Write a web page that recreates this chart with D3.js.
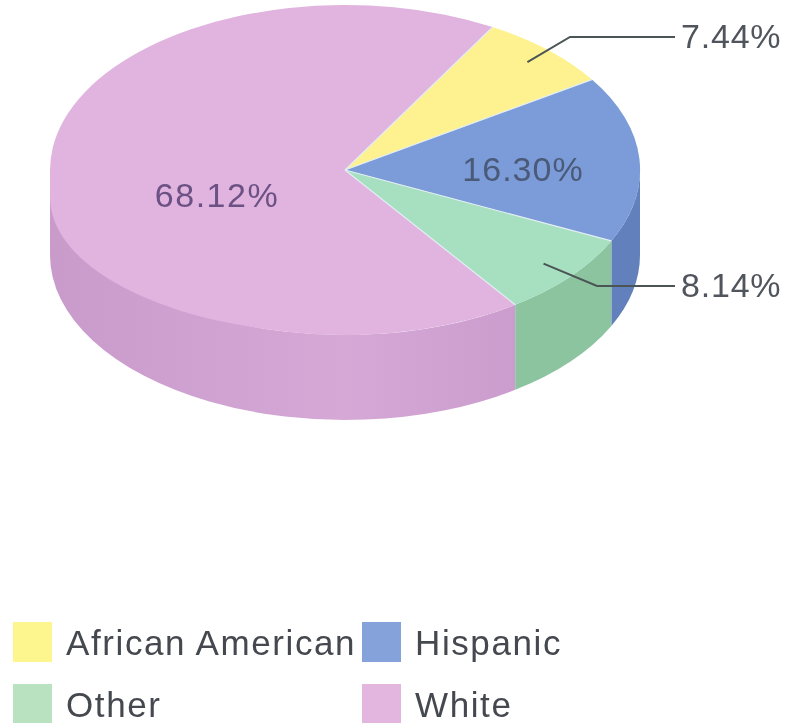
<!DOCTYPE html>
<html lang="en">
<head>
    <meta charset="UTF-8">
    <title>Pie</title>
    <script src="https://d3js.org/d3.v7.min.js"></script>
    <style>
        html, body { margin: 0; background: #fff; overflow: hidden; }
        svg { display: block; filter: blur(0.7px); }
        text { font-family: 'Liberation Sans', Arial, sans-serif; }
    </style>
</head>
<body>
<svg id="chart" width="790" height="723"></svg>
<script>
    const categories = ['African American', 'Hispanic', 'Other', 'White'];
    const shares = [7.44, 16.30, 8.14, 68.12];
    const shareLabels = ['7.44%', '16.30%', '8.14%', '68.12%'];
    const topColors = ['#fdf28f', '#7b9cd8', '#a6e0c0', '#e0b4df'];
    const sideColors = ['#d8cf78', '#6280bc', '#8cc4a0', 'url(#wallPink)'];
    const legendColors = ['#fdf68f', '#86a2da', '#b9e3c0', '#e3b6e0'];
    const labelColors = ['#50545c', '#4a5a78', '#50545c', '#6c5284'];

    const cx = 345, cy = 170, rx = 295, ry = 165, depth = 85;
    const startDeg = 30;
    // the source picture is not a true ellipse, lower left of the top face sags
    const sagCy = 197, sagRy = 137;

    const svg = d3.select('#chart');
    const wallGradient = svg.append('defs').append('linearGradient')
        .attr('id', 'wallPink')
        .attr('gradientUnits', 'userSpaceOnUse')
        .attr('x1', cx - rx).attr('x2', cx + rx)
        .attr('y1', 0).attr('y2', 0);
    [[0, '#c89bcb'], [0.5, '#d6a8d6'], [0.79, '#cb9dce']].forEach(s => {
        wallGradient.append('stop').attr('offset', s[0]).attr('stop-color', s[1]);
    });

    const pie = d3.pie().sort(null).value(d => d)
        .startAngle(startDeg * Math.PI / 180)
        .endAngle((startDeg + 360) * Math.PI / 180);
    const slices = pie(shares);

    // Angles are clockwise from 12 o'clock, same as d3.arc
    const px = a => cx + rx * Math.sin(a);
    const py = a => cy - ry * Math.cos(a);

    // Front wall, only the part of each slice facing down (90deg to 270deg)
    function wallPath(s) {
        const lo = Math.max(s.startAngle, Math.PI / 2);
        const hi = Math.min(s.endAngle, 3 * Math.PI / 2);
        if (hi <= lo) return null;
        const large = hi - lo > Math.PI ? 1 : 0;
        return `M${px(lo)},${py(lo)}A${rx},${ry} 0 ${large} 1 ${px(hi)},${py(hi)}` +
            `L${px(hi)},${py(hi) + depth}A${rx},${ry} 0 ${large} 0 ${px(lo)},${py(lo) + depth}Z`;
    }

    svg.append('g').selectAll('path')
        .data(slices)
        .join('path')
        .attr('d', wallPath)
        .attr('fill', (d, i) => sideColors[i]);

    const arc = d3.arc().innerRadius(0).outerRadius(1);
    svg.append('g')
        .attr('transform', `translate(${cx},${cy}) scale(${rx},${ry})`)
        .selectAll('path')
        .data(slices)
        .join('path')
        .attr('d', arc)
        .attr('fill', (d, i) => topColors[i]);

    // sagging quarter of the top face
    svg.append('path')
        .attr('d', `M${cx - rx},${cy}L${cx - rx},${sagCy}A${rx},${sagRy} 0 0 0 ${cx},${sagCy + sagRy}L${cx},${cy}Z`)
        .attr('fill', topColors[3]);

    // pale seams between slices
    svg.append('g').selectAll('path')
        .data(slices)
        .join('path')
        .attr('d', d => d3.line()([[cx, cy], [px(d.startAngle), py(d.startAngle)]]))
        .attr('stroke', '#e2eef4')
        .attr('stroke-width', 1.2)
        .attr('fill', 'none');

    // Leader lines for the two small slices, the rest sit inside the slice
    const at = (s, r) => {
        const a = (s.startAngle + s.endAngle) / 2;
        return [cx + rx * r * Math.sin(a), cy - ry * r * Math.cos(a)];
    };
    const leaders = [
        { index: 0, r: 0.9, elbowX: 570, elbowY: 37, endX: 675 },
        { index: 2, r: 0.88, elbowX: 597, elbowY: 286, endX: 675 }
    ];
    leaders.forEach(l => {
        svg.append('path')
            .attr('d', d3.line()([at(slices[l.index], l.r), [l.elbowX, l.elbowY], [l.endX, l.elbowY]]))
            .attr('fill', 'none')
            .attr('stroke', '#4c5556')
            .attr('stroke-width', 2);
        svg.append('text')
            .attr('x', 681)
            .attr('y', l.elbowY + 11)
            .attr('font-size', 34)
            .attr('letter-spacing', 0.8)
            .attr('fill', labelColors[l.index])
            .text(shareLabels[l.index]);
    });

    const innerLabels = [
        { index: 1, x: 523, y: 181, spacing: 1 },
        { index: 3, x: 217, y: 207, spacing: 1.5 }
    ];
    innerLabels.forEach(l => {
        svg.append('text')
            .attr('x', l.x)
            .attr('y', l.y)
            .attr('text-anchor', 'middle')
            .attr('font-size', 34)
            .attr('letter-spacing', l.spacing)
            .attr('fill', labelColors[l.index])
            .text(shareLabels[l.index]);
    });

    // Legend, two rows of two
    const legendX = [13, 362], legendY = [622, 684];
    categories.forEach((name, i) => {
        const x = legendX[i % 2], y = legendY[Math.floor(i / 2)];
        svg.append('rect')
            .attr('x', x).attr('y', y)
            .attr('width', 39).attr('height', 40)
            .attr('fill', legendColors[i]);
        svg.append('text')
            .attr('x', x + 53)
            .attr('y', y + 33)
            .attr('font-size', 35)
            .attr('letter-spacing', 1.6)
            .attr('fill', '#45494f')
            .text(name);
    });
</script>
</body>
</html>
